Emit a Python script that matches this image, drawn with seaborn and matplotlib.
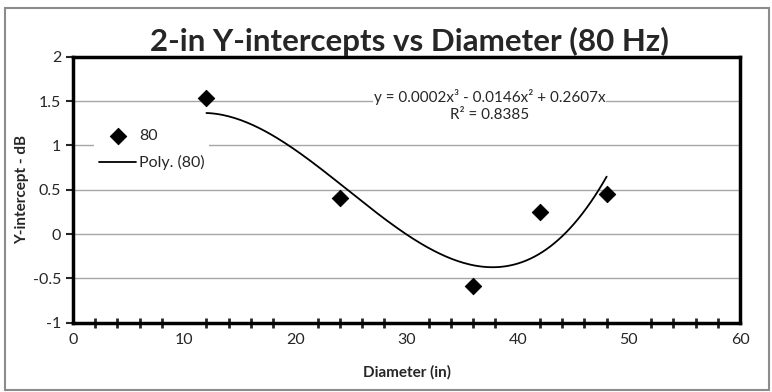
import matplotlib
matplotlib.use("Agg")
import matplotlib.pyplot as plt
import numpy as np
import pandas as pd
import seaborn as sns
from matplotlib.patches import Rectangle
from matplotlib.ticker import MultipleLocator

# measured points (80 Hz)
diameter = [12, 24, 36, 42, 48]
intercept = [1.54, 0.41, -0.59, 0.25, 0.45]
equation = "y = 0.0002x³ - 0.0146x² + 0.2607x"
r_squared = "R² = 0.8385"

sns.set_theme(style="white")
plt.rcParams["font.family"] = ["Lato", "DejaVu Sans"]

points = pd.DataFrame({"x": diameter, "y": intercept})

# Excel-style cubic trendline, intercept forced to zero
xs = np.asarray(diameter, float)
A = np.column_stack([xs, xs ** 2, xs ** 3])
coef, *_ = np.linalg.lstsq(A, np.asarray(intercept, float), rcond=None)
xfit = np.linspace(min(diameter), max(diameter), 200)
fit = pd.DataFrame({"x": xfit, "y": coef[0] * xfit + coef[1] * xfit ** 2 + coef[2] * xfit ** 3})

fig = plt.figure(figsize=(7.72, 3.92), dpi=100)
ax = fig.add_axes([0.0946, 0.177, 0.864, 0.678])

ax.yaxis.grid(True, color="#a6a6a6", linewidth=1)
ax.set_axisbelow(True)
sns.lineplot(data=fit, x="x", y="y", ax=ax, color="black", linewidth=1.3, label="Poly. (80)", zorder=3)
sns.scatterplot(data=points, x="x", y="y", ax=ax, marker="D", s=70, color="black", edgecolor="black",
                label="80", zorder=4)

ax.set_xlim(0, 60)
ax.set_ylim(-1, 2)
ax.xaxis.set_major_locator(MultipleLocator(10))
ax.xaxis.set_minor_locator(MultipleLocator(2))
ax.set_yticks([-1, -0.5, 0, 0.5, 1, 1.5, 2], ["-1", "-0.5", "0", "0.5", "1", "1.5", "2"])
ax.tick_params(axis="x", which="major", direction="inout", length=9, width=2, labelsize=11.5, pad=3)
ax.tick_params(axis="x", which="minor", direction="inout", length=7, width=2, bottom=True)
ax.tick_params(axis="y", which="major", direction="out", length=5, width=1.5, labelsize=11.5, left=True)
for s in ax.spines.values():
    s.set_linewidth(2.5)
    s.set_color("black")

ax.set_xlabel("Diameter (in)", fontsize=11, fontweight="bold")
ax.set_ylabel("Y-intercept - dB", fontsize=11, fontweight="bold")
ax.xaxis.set_label_coords(0.5, -0.16)
ax.yaxis.set_label_coords(-0.066, 0.5)
fig.text(0.531, 0.895, "2-in Y-intercepts vs Diameter (80 Hz)", fontsize=22.5, fontweight="bold",
         ha="center", va="center")

ax.text(37.5, 1.545, equation, fontsize=11, ha="center", va="center",
        bbox=dict(facecolor="white", edgecolor="none", pad=0.5), zorder=5)
ax.text(37.5, 1.345, r_squared, fontsize=11, ha="center", va="center",
        bbox=dict(facecolor="white", edgecolor="none", pad=0.5), zorder=5)

handles, labels = ax.get_legend_handles_labels()
order = [labels.index("80"), labels.index("Poly. (80)")]
ax.legend([handles[i] for i in order], [labels[i] for i in order], loc="center left",
          bbox_to_anchor=(0.02, 0.65), frameon=True, facecolor="white", edgecolor="none",
          framealpha=1, fontsize=11.5, handlelength=2.3, borderpad=0.3, labelspacing=0.75,
          handletextpad=0.2, fancybox=False)

fig.patches.append(Rectangle((0.006, 0.005), 0.99, 0.975, transform=fig.transFigure,
                             fill=False, edgecolor="#8c8c8c", linewidth=1.5))

fig.savefig("out.png", dpi=100)
